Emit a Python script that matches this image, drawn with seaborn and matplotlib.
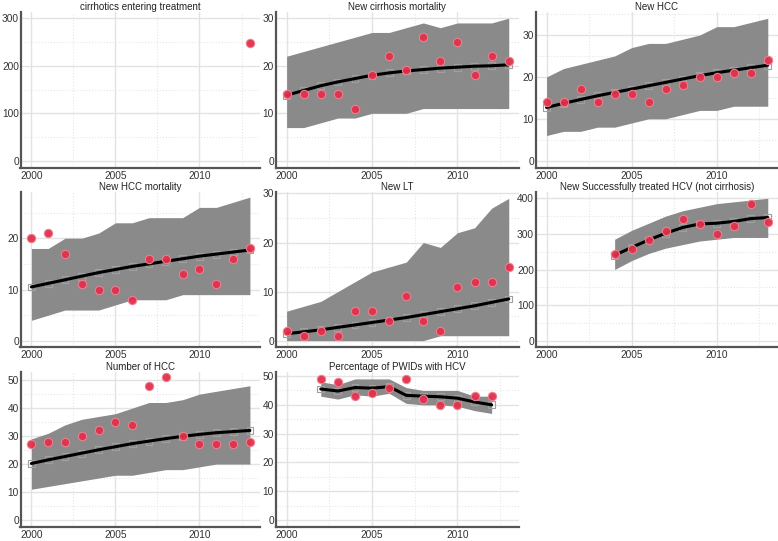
import numpy as np
import pandas as pd
import matplotlib
matplotlib.use('Agg')
import matplotlib.pyplot as plt
from matplotlib.ticker import MultipleLocator
import seaborn as sns

sns.set_theme(style='white')
plt.rcParams['font.family'] = ['Liberation Sans', 'DejaVu Sans']

yrs_full = list(range(2000, 2014))

titles = ['cirrhotics entering treatment', 'New cirrhosis mortality', 'New HCC',
          'New HCC mortality', 'New LT', 'New Successfully treated HCV (not cirrhosis)',
          'Number of HCC', 'Percentage of PWIDs with HCV']

# cirrhotics entering treatment: only observed point
cirr_obs_years = [2013]
cirr_obs = [248]

# New cirrhosis mortality
ncm_fit = [13.8, 14.8, 15.8, 16.6, 17.3, 18.0, 18.5, 18.9, 19.2, 19.5, 19.7, 19.9, 20.0, 20.2]
ncm_lo = [7, 7, 8, 9, 9, 10, 10, 10, 11, 11, 11, 11, 11, 11]
ncm_hi = [22, 23, 24, 25, 26, 27, 27, 28, 29, 28, 29, 29, 29, 30]
ncm_obs = [14, 14, 14, 14, 11, 18, 22, 19, 26, 21, 25, 18, 22, 21]

# New HCC
nhcc_fit = [12.7, 13.7, 14.6, 15.5, 16.3, 17.1, 17.9, 18.7, 19.5, 20.3, 21.0, 21.6, 22.2, 22.8]
nhcc_lo = [6, 7, 7, 8, 8, 9, 10, 10, 11, 12, 12, 13, 13, 13]
nhcc_hi = [20, 22, 23, 24, 25, 27, 28, 28, 29, 30, 32, 32, 33, 34]
nhcc_obs = [14, 14, 17, 14, 16, 16, 14, 17, 18, 20, 20, 21, 21, 24]

# New HCC mortality
hccm_fit = [10.5, 11.2, 11.9, 12.6, 13.3, 13.9, 14.5, 15.0, 15.5, 16.0, 16.5, 16.9, 17.3, 17.7]
hccm_lo = [4, 5, 6, 6, 6, 7, 8, 8, 8, 9, 9, 9, 9, 9]
hccm_hi = [18, 18, 20, 20, 21, 23, 23, 24, 24, 24, 26, 26, 27, 28]
hccm_obs = [20, 21, 17, 11, 10, 10, 8, 16, 16, 13, 14, 11, 16, 18]

# New LT
lt_fit = [1.4, 1.8, 2.2, 2.7, 3.2, 3.7, 4.2, 4.7, 5.3, 5.9, 6.5, 7.1, 7.8, 8.5]
lt_lo = [0, 0, 0, 0, 0, 0, 0, 0, 0, 1, 1, 1, 1, 1]
lt_hi = [6, 7, 8, 10, 12, 14, 15, 16, 20, 19, 22, 23, 27, 29]
lt_obs = [2, 1, 2, 1, 6, 6, 4, 9, 4, 2, 11, 12, 12, 15]

# New successfully treated HCV (not cirrhosis)
hcv_years = list(range(2004, 2014))
hcv_fit = [240, 262, 283, 302, 318, 328, 330, 335, 343, 346]
hcv_lo = [200, 225, 245, 260, 270, 280, 285, 290, 290, 290]
hcv_hi = [285, 310, 330, 350, 365, 375, 385, 390, 395, 400]
hcv_obs = [243, 258, 283, 307, 342, 328, 301, 323, 383, 333]

# Number of HCC
num_fit = [20.2, 21.5, 22.7, 23.9, 25.1, 26.2, 27.3, 28.2, 29.1, 29.9, 30.6, 31.2, 31.6, 32.0]
num_lo = [11, 12, 13, 14, 15, 16, 16, 17, 18, 18, 19, 20, 20, 20]
num_hi = [29, 31, 34, 36, 37, 38, 40, 42, 42, 43, 45, 46, 47, 48]
num_obs = [27, 28, 28, 30, 32, 35, 34, 48, 51, 30, 27, 27, 27, 28]

# Percentage of PWIDs with HCV
pwid_years = list(range(2002, 2013))
pwid_fit = [45.5, 44.8, 46.0, 45.8, 46.3, 43.3, 43.0, 42.8, 42.3, 41.0, 40.0]
pwid_lo = [43, 42, 43.5, 43, 44, 40.5, 40, 40, 39.5, 38, 37]
pwid_hi = [48, 47, 49, 49, 49, 46, 45, 45, 45, 43, 43]
pwid_obs = [49, 48, 43, 44, 46, 49, 42, 40, 40, 43, 43]

panels = [
    (None, None, None, None, cirr_obs_years, cirr_obs),
    (yrs_full, ncm_fit, ncm_lo, ncm_hi, yrs_full, ncm_obs),
    (yrs_full, nhcc_fit, nhcc_lo, nhcc_hi, yrs_full, nhcc_obs),
    (yrs_full, hccm_fit, hccm_lo, hccm_hi, yrs_full, hccm_obs),
    (yrs_full, lt_fit, lt_lo, lt_hi, yrs_full, lt_obs),
    (hcv_years, hcv_fit, hcv_lo, hcv_hi, hcv_years, hcv_obs),
    (yrs_full, num_fit, num_lo, num_hi, yrs_full, num_obs),
    (pwid_years, pwid_fit, pwid_lo, pwid_hi, pwid_years, pwid_obs),
]

# axis ranges and tick steps per panel
ylims = [(-15, 313), (-1.5, 31.3), (-1.75, 35.5), (-1.2, 29.0),
         (-1.3, 30.3), (-17.7, 417.7), (-2.5, 52.9), (-2.4, 51.4)]
ysteps = [100, 10, 10, 10, 10, 100, 10, 10]

fig = plt.figure(figsize=(7.78, 5.41), dpi=100)
W, H = 778, 541
col_left = [20.5, 275.5, 535.5]
col_right = [260, 519, 778]
row_top = [12, 192, 372]
row_bot = [168, 347, 527]

band_col = '#8a8a8a'
red = '#e2304c'

for i, (fx, fit, lo, hi, ox, obs) in enumerate(panels):
    r, c = divmod(i, 3)
    ax = fig.add_axes([col_left[c] / W, 1 - row_bot[r] / H,
                       (col_right[c] - col_left[c]) / W, (row_bot[r] - row_top[r]) / H])
    ax.set_facecolor('white')
    ax.xaxis.set_major_locator(MultipleLocator(5))
    ax.xaxis.set_minor_locator(MultipleLocator(2.5))
    ax.yaxis.set_major_locator(MultipleLocator(ysteps[i]))
    ax.yaxis.set_minor_locator(MultipleLocator(ysteps[i] / 2))
    ax.grid(True, which='major', color='#e3e3e3', lw=1.0)
    ax.grid(True, which='minor', color='#e6e6e6', lw=0.8, ls=':')
    ax.set_axisbelow(True)

    if fx is not None:
        ax.fill_between(fx, lo, hi, color=band_col, lw=0, zorder=2)
        df_fit = pd.DataFrame({'year': fx, 'value': fit})
        sns.lineplot(data=df_fit, x='year', y='value', ax=ax, color='black', lw=2.2, zorder=4)
        ax.scatter(fx, fit, marker='s', s=24, facecolors='none', edgecolors='#a0a0a0',
                   linewidths=0.8, zorder=3)
    else:
        ax.scatter(ox, obs, marker='s', s=24, facecolors='none', edgecolors='#bdbdbd',
                   linewidths=0.8, zorder=3)
    df_obs = pd.DataFrame({'year': ox, 'value': obs})
    sns.scatterplot(data=df_obs, x='year', y='value', ax=ax, color=red, s=36,
                    edgecolor='#f08090', linewidth=0.8, alpha=0.95, zorder=5)

    ax.set_xlim(1999.35, 2013.6)
    ax.set_ylim(*ylims[i])
    ax.set_xlabel('')
    ax.set_ylabel('')
    ax.set_title(titles[i], fontsize=7, color='#222222', pad=1.5)
    ax.tick_params(axis='both', which='both', length=0, labelsize=7.3,
                   labelcolor='#333333', pad=1.2)
    ax.tick_params(axis='x', pad=2.5)
    for s in ['top', 'right']:
        ax.spines[s].set_visible(False)
    for s in ['left', 'bottom']:
        ax.spines[s].set_color('#555555')
        ax.spines[s].set_linewidth(1.6)

fig.savefig('out.png', dpi=100)
